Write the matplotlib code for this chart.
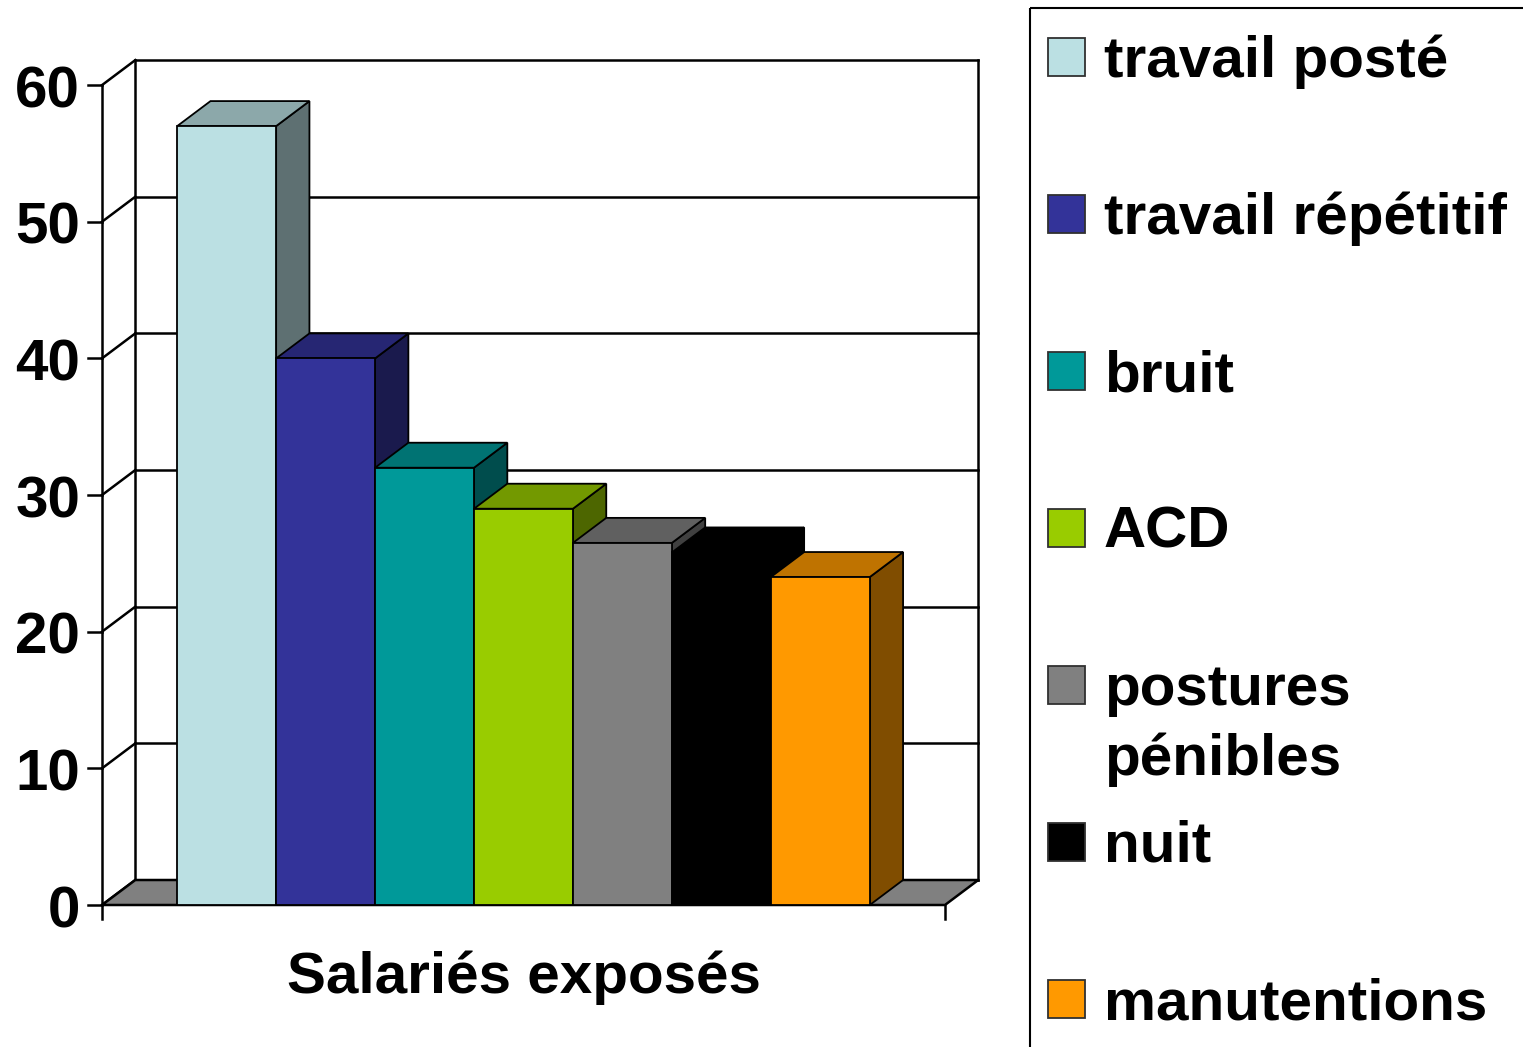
import matplotlib
matplotlib.use("Agg")
import matplotlib.pyplot as plt
from matplotlib.patches import Polygon, Rectangle
from matplotlib.colors import to_rgb

plt.rcParams['font.family'] = ['Liberation Sans', 'DejaVu Sans']

# donnees
categories = ["travail posté", "travail répétitif", "bruit", "ACD",
              "postures\npénibles", "nuit", "manutentions"]
valeurs = [57, 40, 32, 29, 26.5, 25.8, 24]
couleurs = ["#BBE0E3", "#333399", "#009999", "#99CC00",
            "#808080", "#000000", "#FF9900"]
yticks = [0, 10, 20, 30, 40, 50, 60]
xlabel = "Salariés exposés"

W, H = 1523, 1047
px_x = 98.94   # pixels par barre
px_y = 13.665  # pixels par unite
x0_px, y0_px = 102, 905

fig = plt.figure(figsize=(W / 100, H / 100), dpi=100)
ax = fig.add_axes([0, 0, 1, 1])
ax.set_xlim(-x0_px / px_x, (W - x0_px) / px_x)
ax.set_ylim((y0_px - H) / px_y, y0_px / px_y)
ax.axis('off')

dx = 33.3 / px_x
dy = 25 / px_y
fin = 8.52
ymax = yticks[-1]
gap = (fin - len(valeurs)) / 2
lw = 1.8

# murs et grille
for v in yticks:
    ax.plot([dx, fin + dx], [v + dy, v + dy], color='black', lw=lw, zorder=1)
    ax.plot([0, dx], [v, v + dy], color='black', lw=lw, zorder=1)
    ax.plot([-14 / px_x, 0], [v, v], color='black', lw=lw, zorder=1)
    ax.text(-22 / px_x, v - 22 / px_y, str(v), ha='right', va='baseline',
            fontsize=42, fontweight='bold')
ax.plot([dx, dx], [dy, ymax + dy], color='black', lw=lw, zorder=1)
ax.plot([fin + dx, fin + dx], [dy, ymax + dy], color='black', lw=lw, zorder=1)
ax.plot([0, 0], [-14 / px_y, ymax], color='black', lw=lw, zorder=1)
ax.plot([fin, fin], [-14 / px_y, 0], color='black', lw=lw, zorder=1)

# sol
ax.add_patch(Polygon([(0, 0), (fin, 0), (fin + dx, dy), (dx, dy)],
                     closed=True, facecolor='#808080', edgecolor='black',
                     lw=lw, zorder=2))

# barres
for i, (v, c) in enumerate(zip(valeurs, couleurs)):
    x = gap + i
    rgb = to_rgb(c)
    haut = tuple(k * 0.75 for k in rgb)
    cote = tuple(k * 0.5 for k in rgb)
    z = 3 + i
    ax.add_patch(Polygon([(x + 1, 0), (x + 1, v), (x + 1 + dx, v + dy), (x + 1 + dx, dy)],
                         closed=True, facecolor=cote, edgecolor='black', lw=1.3, zorder=z))
    ax.add_patch(Polygon([(x, v), (x + 1, v), (x + 1 + dx, v + dy), (x + dx, v + dy)],
                         closed=True, facecolor=haut, edgecolor='black', lw=1.3, zorder=z))
    ax.bar(x, v, width=1, align='edge', color=c, edgecolor='black', lw=1.3, zorder=z)

ax.text(fin / 2, (y0_px - 993) / px_y, xlabel, ha='center', va='baseline',
        fontsize=42, fontweight='bold')

# legende
lg = fig.add_axes([0, 0, 1, 1], zorder=10)
lg.set_xlim(0, W)
lg.set_ylim(H, 0)
lg.axis('off')
lg.patch.set_alpha(0)
lg.add_patch(Rectangle((1030, 8), 600, 1100, facecolor='none',
                       edgecolor='black', lw=1.5))
for i, (nom, c) in enumerate(zip(categories, couleurs)):
    yc = 57 + 157 * i
    lg.add_patch(Rectangle((1048, yc - 19), 37, 38, facecolor=c,
                           edgecolor='#303030', lw=1.3))
    for k, ligne in enumerate(nom.split("\n")):
        lg.text(1104, yc + 20 + 70 * k, ligne, ha='left', va='baseline',
                fontsize=42, fontweight='bold')

fig.savefig("out.png", dpi=100)
